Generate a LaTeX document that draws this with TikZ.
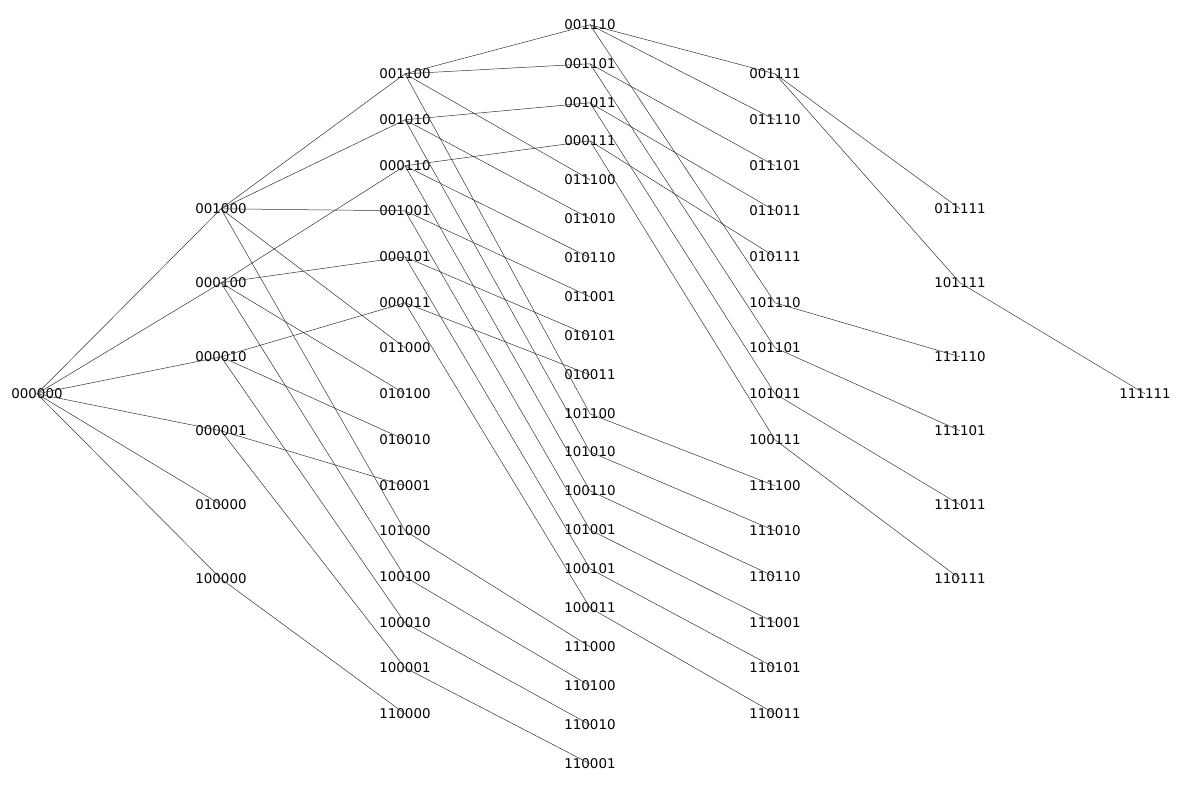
\documentclass[tikz,border=0pt]{standalone}
\usepackage{fontspec}
\setmainfont{DejaVu Sans}
\begin{document}
\begin{tikzpicture}[x=1pt,y=-1pt,
  lbl/.style={inner sep=0pt,yshift=-0.8pt,font=\fontsize{13.4}{14}\selectfont},
  edge/.style={line width=0.5pt,draw=black!80}]
\useasboundingbox (0,0) rectangle (1181,788);
\foreach \n/\x/\y in {
 000000/37/393,
 001000/221/208, 000100/221/282, 000010/221/356, 000001/221/430, 010000/221/504, 100000/221/578,
 001100/405/73, 001010/405/119, 000110/405/165, 001001/405/210, 000101/405/256, 000011/405/302,
 011000/405/347, 010100/405/393, 010010/405/439, 010001/405/485, 101000/405/530, 100100/405/576,
 100010/405/622, 100001/405/667, 110000/405/713,
 001110/590/24, 001101/590/63, 001011/590/102, 000111/590/140, 011100/590/179, 011010/590/218,
 010110/590/257, 011001/590/296, 010101/590/335, 010011/590/374, 101100/590/413, 101010/590/451,
 100110/590/490, 101001/590/529, 100101/590/568, 100011/590/607, 111000/590/646, 110100/590/685,
 110010/590/724, 110001/590/763,
 001111/775/73, 011110/775/119, 011101/775/165, 011011/775/210, 010111/775/256, 101110/775/302,
 101101/775/347, 101011/775/393, 100111/775/439, 111100/775/485, 111010/775/530, 110110/775/576,
 111001/775/622, 110101/775/667, 110011/775/713,
 011111/960/208, 101111/960/282, 111110/960/356, 111101/960/430, 111011/960/504, 110111/960/578,
 111111/1145/393}
 \node[lbl] (n\n) at (\x,\y) {\n};
\foreach \a/\b in {
 000000/001000, 000000/000100, 000000/000010, 000000/000001, 000000/010000, 000000/100000,
 001000/001100, 001000/001010, 001000/001001, 001000/011000, 001000/101000,
 000100/000110, 000100/000101, 000100/010100, 000100/100100,
 000010/000011, 000010/010010, 000010/100010,
 000001/010001, 000001/100001,
 100000/110000,
 001100/001110, 001100/001101, 001100/011100, 001100/101100,
 001010/001011, 001010/011010, 001010/101010,
 000110/000111, 000110/010110, 000110/100110,
 001001/011001, 001001/101001,
 000101/010101, 000101/100101,
 000011/010011, 000011/100011,
 101000/111000, 100100/110100, 100010/110010, 100001/110001,
 001110/001111, 001110/011110, 001110/101110,
 001101/011101, 001101/101101,
 001011/011011, 001011/101011,
 000111/010111, 000111/100111,
 101100/111100, 101010/111010, 100110/110110, 101001/111001, 100101/110101, 100011/110011,
 001111/011111, 001111/101111,
 101110/111110, 101101/111101, 101011/111011, 100111/110111,
 101111/111111}
 \draw[edge] (n\a.center) -- (n\b.center);
\end{tikzpicture}
\end{document}
